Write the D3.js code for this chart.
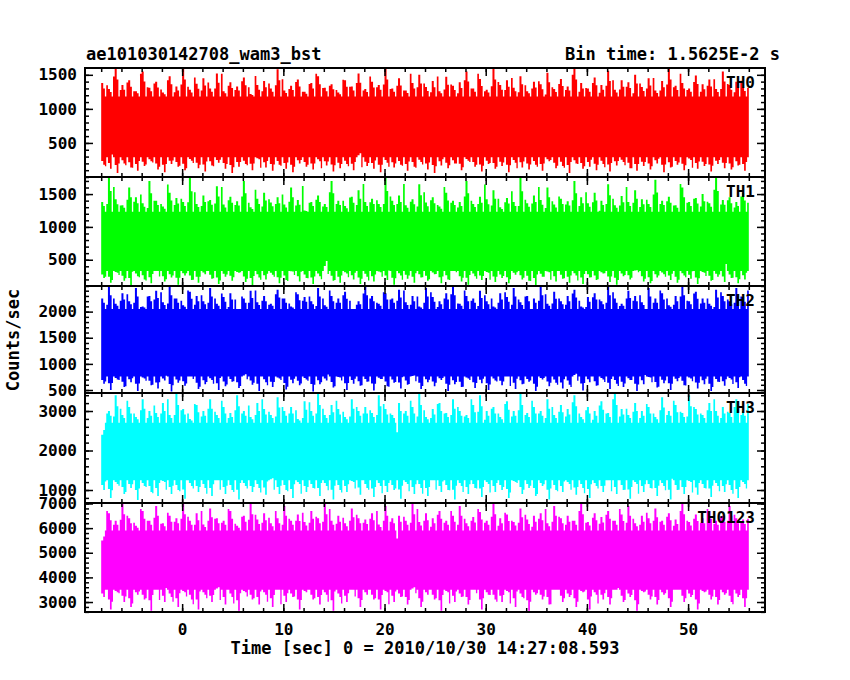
<!DOCTYPE html>
<html>
<head>
<meta charset="utf-8">
<script src="https://cdn.jsdelivr.net/npm/d3@7"></script>
<style>
body { margin: 0; background: #fff; }
text { font-family: "DejaVu Sans Mono", monospace; font-weight: bold; }
</style>
</head>
<body>
<svg width="850" height="680"></svg>
<script>
var names = ['TH0', 'TH1', 'TH2', 'TH3', 'TH0123'];
var colors = ['#ff0000', '#00ff00', '#0000ff', '#00ffff', '#ff00ff'];
var yDomains = [[0, 1600], [100, 1760], [443, 2490], [671, 3456], [2595, 7020]];
var yMajor = [[500, 1000, 1500], [500, 1000, 1500], [500, 1000, 1500, 2000], [1000, 2000, 3000], [3000, 4000, 5000, 6000, 7000]];
var yMinorStep = [100, 100, 100, 200, 200];
var tStart = -8, tEnd = 56;
// typical solid band edges of each light curve
var coreHi = [1180, 1230, 2050, 2700, 5900];
var coreLo = [290, 330, 760, 1250, 3500];

var hi0 = [1380,1290,1600,1350,1420,1260,1550,1310,1400,1240,1480,1330,1600,1280,1370,1450,1300,1520,1260,1390,1330,1460,1220,1350,1410,1300,1580,1270,1340,1430,1250,1380,1480,1310,1360,1240,1420,1330,1520,1290,1400,1350,1600,1300,1450,1270,1380,1500,1320,1410,1260,1470,1340,1390,1550,1300,1440,1280,1600,1350,1420,1310,1480,1260,1400,1360,1530,1290,1440,1330,1600,1380,1300,1460,1350,1560,1280,1420,1390,1500,1320,1450,1270,1410,1600,1340,1380,1300,1490,1360,1430,1290,1550,1350,1400,1320];
var lo0 = [180,120,60,200,140,90,160,230,110,70,190,150,100,240,130,80,170,210,120,60,150,190,100,260,140,90,180,120,70,200,150,110,230,170,80,130,190,100,350,160,120,70,210,140,180,90,150,220,110,60,170,130,200,100,240,150,80,190,120,160,70,210,140,110,180,90,230,130,160,60,200,120,150,100,190,80,170,220,130,90,160,110,200,70,140,180,100,250,120,160,80,190,130,110,170,90];
var hi1 = [1380,1760,1420,1330,1600,1450,1360,1700,1400,1310,1520,1440,1380,1750,1350,1480,1410,1620,1340,1460,1390,1700,1300,1430,1520,1370,1450,1340,1600,1410,1250,1380,1480,1350,1700,1400,1320,1460,1560,1380,1430,1350,1760,1400,1480,1330,1420,1650,1370,1450,1310,1520,1400,1380,1700,1350,1460,1420,1560,1300,1440,1380,1750,1360,1480,1410,1600,1340,1430,1390,1700,1450,1360,1520,1400,1650,1330,1470,1380,1560,1420,1350,1720,1400,1460,1330,1600,1380,1440,1500,1360,1760,1410,1450,1380,1520];
var lo1 = [220,150,300,180,110,250,200,140,330,170,230,120,260,190,150,280,210,130,240,180,300,160,110,230,200,270,140,190,320,170,220,130,250,480,180,150,290,200,130,240,170,310,190,120,260,210,150,230,180,280,140,200,330,170,120,250,190,300,160,220,140,270,200,180,110,240,310,170,210,150,260,130,230,190,290,160,120,250,200,340,170,140,230,280,190,150,260,210,130,300,180,240,160,220,140,200];
var hi2 = [2250,2490,2150,2350,2200,2450,2100,2300,2400,2180,2490,2250,2120,2380,2300,2200,2450,2150,2280,2350,2050,2250,2400,2180,2300,2150,2420,2250,2100,2330,2280,2200,2450,2120,2300,2250,2380,2050,2200,2490,2300,2150,2350,2250,2420,2180,2300,2100,2450,2280,2200,2350,2490,2150,2300,2250,2400,2200,2100,2350,2280,2450,2180,2300,2250,2490,2150,2380,2200,2300,2420,2100,2280,2350,2200,2490,2250,2150,2400,2300,2180,2450,2250,2350,2120,2300,2490,2200,2380,2250,2150,2420,2300,2200,2450,2280];
var lo2 = [620,500,700,560,650,480,720,590,530,680,470,640,580,760,520,610,690,500,570,660,540,800,600,480,650,560,720,510,630,590,700,470,610,680,550,740,500,620,580,660,490,710,570,640,530,600,780,520,650,570,690,480,610,560,720,540,630,500,680,590,760,520,610,660,480,700,570,640,530,600,810,490,650,580,700,520,620,560,690,480,610,740,550,630,500,670,590,720,530,610,480,660,580,700,540,620];
var hi3 = [2400,3000,3400,2900,3100,2850,3300,3000,2950,3200,2900,3450,3050,2800,3150,3000,3300,2900,3100,2950,3400,3000,2850,3200,3050,2900,3350,3000,3100,2800,3250,3000,3450,2900,3150,3050,2850,3300,3000,3100,2950,3400,3050,2900,3200,3000,3100,3450,2850,3050,3200,2950,3300,3000,2900,3150,3400,3000,3100,2850,3250,3000,3450,2950,3100,3000,3300,2900,3150,3050,3400,2850,3100,3000,3250,2950,3450,3050,2900,3200,3000,3100,2850,3350,3000,3150,2950,3400,3050,2900,3200,3000,3100,2950,3300,3000];
var lo3 = [1000,800,1150,900,1050,750,1100,950,850,1200,900,1000,780,1100,950,1050,850,1250,900,1000,760,1100,950,1050,880,1300,900,1000,800,1150,950,1050,850,1100,760,1000,950,1200,880,1050,820,1100,950,1000,780,1150,900,1050,850,1250,950,1000,760,1100,900,1050,820,1150,950,1000,800,1200,900,1050,850,1100,760,1000,950,1150,880,1050,800,1100,950,1250,900,1000,780,1150,950,1050,850,1100,760,1000,900,1200,880,1050,820,1100,950,1000,800,1150];
var hi4 = [5500,6600,6300,7000,6400,6100,6700,6300,6900,6200,6500,6400,7000,6300,6600,6150,6800,6400,6300,6700,6100,6500,7000,6350,6600,6200,6400,6900,6300,6550,6250,6700,6400,7000,6300,6500,6200,6800,6400,6350,6600,6150,6900,6400,6500,6300,7000,6250,6600,6400,6700,6300,6500,6900,6200,6450,6650,6300,7000,6400,6550,6250,6800,6350,6500,6600,6200,6900,6400,6500,6300,7000,6250,6600,6450,6700,6300,6550,6900,6200,6500,6400,6800,6300,6600,6350,7000,6250,6550,6400,6700,6300,6500,6900,6400,6350];
var lo4 = [3200,2700,3400,3000,2800,3300,3100,2650,3500,3000,3200,2800,3400,3100,2700,3300,3000,3600,2900,3200,2650,3400,3100,2900,3300,2800,3500,3000,3200,2700,3400,3100,2900,3300,2650,3200,3000,3500,2800,3300,3100,2700,3400,3000,3200,2900,3600,2800,3300,3100,2650,3400,3000,3200,2900,3500,2700,3300,3100,3000,3400,2800,3200,2650,3300,3100,2900,3500,3000,3200,2800,3400,2700,3300,3100,2900,3500,3000,3200,2650,3400,3100,2900,3300,2800,3500,3000,3200,2700,3400,3100,2900,3300,3000,3200,2800];
var highs = [hi0, hi1, hi2, hi3, hi4];
var lows = [lo0, lo1, lo2, lo3, lo4];

var svg = d3.select('svg');
var left = 85, right = 765;
var bounds = [68, 177, 286, 393, 503, 612];

var xScale = d3.scaleLinear().domain([-9.6, 57.6]).range([left, right]);

names.forEach(function(name, p) {
  var top = bounds[p], bottom = bounds[p + 1];
  var dom = yDomains[p];
  var yScale = d3.scaleLinear().domain(dom).range([bottom, top]);
  var hi = highs[p], lo = lows[p];
  var n = hi.length;
  var w = (tEnd - tStart) / n;
  var cH = coreHi[p], cL = coreLo[p];

  // each bin drawn as peak, shoulder, band, shoulder
  var pts = [];
  hi.forEach(function(h, i) {
    var t0 = tStart + i * w;
    var l = lo[i];
    var l2 = lo[(i + 37) % n];
    var h2 = hi[(i + 53) % n];
    pts.push({ t: t0, h: h, l: cL + (l - cL) * 0.5 });
    pts.push({ t: t0 + 0.3 * w, h: cH + (h - cH) * 0.6, l: l });
    pts.push({ t: t0 + 0.55 * w, h: cH, l: cL + (l2 - cL) * 0.7 });
    pts.push({ t: t0 + 0.75 * w, h: cH + (h2 - cH) * 0.8, l: cL });
  });
  pts.push({ t: tEnd, h: cH, l: cL });

  var area = d3.area()
    .curve(d3.curveStepAfter)
    .x(function(d) { return xScale(d.t); })
    .y0(function(d) { return yScale(Math.max(d.l, dom[0])); })
    .y1(function(d) { return yScale(Math.min(d.h, dom[1])); });

  svg.append('path').datum(pts)
    .attr('d', area)
    .attr('fill', colors[p]);

  var minor = d3.range(Math.ceil(dom[0] / yMinorStep[p]) * yMinorStep[p], dom[1], yMinorStep[p]);

  function yAxes(axisFn, x) {
    svg.append('g').attr('transform', 'translate(' + x + ',0)')
      .call(axisFn(yScale).tickValues(minor).tickSize(-4).tickFormat(''))
      .call(function(g) { g.select('.domain').remove(); });
    var g = svg.append('g').attr('transform', 'translate(' + x + ',0)')
      .call(axisFn(yScale).tickValues(yMajor[p]).tickSize(-8).tickPadding(8)
        .tickFormat(axisFn === d3.axisLeft ? d3.format('d') : ''));
    g.select('.domain').remove();
    return g;
  }
  yAxes(d3.axisLeft, left).selectAll('text').style('font-size', '16px').attr('fill', '#000');
  yAxes(d3.axisRight, right);

  var xMinor = d3.range(-8, 58, 2);
  function xAxes(axisFn, y, labels) {
    svg.append('g').attr('transform', 'translate(0,' + y + ')')
      .call(axisFn(xScale).tickValues(xMinor).tickSize(-4).tickFormat(''))
      .call(function(g) { g.select('.domain').remove(); });
    var g = svg.append('g').attr('transform', 'translate(0,' + y + ')')
      .call(axisFn(xScale).tickValues([0, 10, 20, 30, 40, 50])
        .tickSize(-8).tickPadding(12)
        .tickFormat(labels ? d3.format('d') : ''));
    g.select('.domain').remove();
    g.selectAll('text').style('font-size', '16px').attr('fill', '#000');
  }
  xAxes(d3.axisTop, top, false);
  xAxes(d3.axisBottom, bottom, p === names.length - 1);

  svg.append('rect')
    .attr('x', left).attr('y', top)
    .attr('width', right - left).attr('height', bottom - top)
    .attr('fill', 'none').attr('stroke', '#000').attr('stroke-width', 2);

  svg.append('text')
    .attr('x', right - 10).attr('y', top + 20)
    .attr('text-anchor', 'end')
    .style('font-size', '16px')
    .text(name);
});

svg.selectAll('.tick line').attr('stroke', '#000').attr('stroke-width', 1.5);

svg.append('text').attr('x', 86).attr('y', 60)
  .style('font-size', '17px').text('ae101030142708_wam3_bst');
svg.append('text').attr('x', 780).attr('y', 60).attr('text-anchor', 'end')
  .style('font-size', '17px').text('Bin time: 1.5625E-2 s');
svg.append('text').attr('x', 425).attr('y', 654).attr('text-anchor', 'middle')
  .style('font-size', '17px').text('Time [sec] 0 = 2010/10/30 14:27:08.593');
svg.append('text').attr('transform', 'translate(19,340) rotate(-90)')
  .attr('text-anchor', 'middle')
  .style('font-size', '17px').text('Counts/sec');
</script>
</body>
</html>
